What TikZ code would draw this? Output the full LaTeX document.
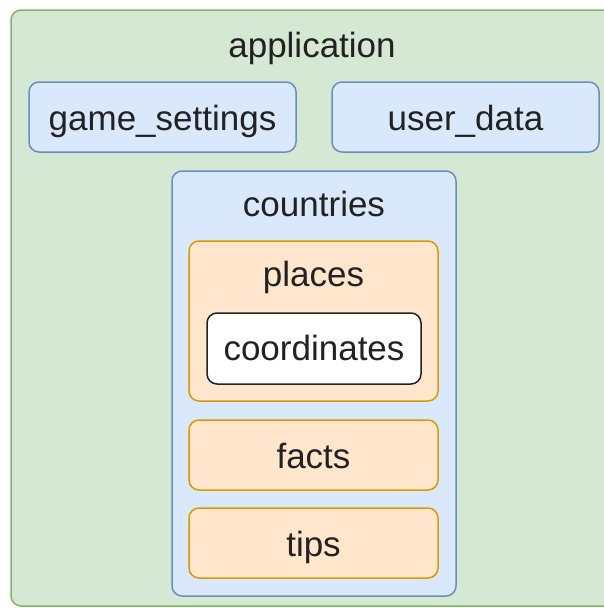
\documentclass[tikz,border=0pt]{standalone}
\usepackage{fontspec}
\setmainfont{Liberation Sans}
\definecolor{appfill}{HTML}{D5E8D4}
\definecolor{appline}{HTML}{82B366}
\definecolor{bluefill}{HTML}{DAE8FC}
\definecolor{blueline}{HTML}{6C8EBF}
\definecolor{orangefill}{HTML}{FFE6CC}
\definecolor{orangeline}{HTML}{D79B00}
\definecolor{ink}{HTML}{222222}
\begin{document}
\begin{tikzpicture}[x=1pt,y=-1pt,
  box/.style={rectangle, rounded corners=10pt, line width=1.5pt, inner sep=0pt,
    text=ink, font=\fontsize{35}{42}\selectfont, text height=26pt, text depth=0pt},
  greenbox/.style={box, fill=appfill, draw=appline},
  bluebox/.style={box, fill=bluefill, draw=blueline},
  orangebox/.style={box, fill=orangefill, draw=orangeline},
  whitebox/.style={box, fill=white, draw=ink},
  caption/.style={anchor=base, inner sep=0pt, text=ink, font=\fontsize{35}{42}\selectfont}]
\useasboundingbox (0,0) rectangle (604,608);
\clip (0,0) rectangle (604,608);

% outer container
\node[greenbox, minimum width=609pt, minimum height=596pt] (app) at (315.5,308) {};
\node[caption] (apptitle) at (312,57) {application};

% top-level data
\node[bluebox, minimum width=267pt, minimum height=70pt] (game) at (162.5,117) {game\_settings};
\node[bluebox, minimum width=267pt, minimum height=70pt] (user) at (465.5,117) {user\_data};

% countries container
\node[bluebox, minimum width=284pt, minimum height=425pt] (countries) at (314,383.5) {};
\node[caption] (countriestitle) at (314,216) {countries};

% places with nested coordinates
\node[orangebox, minimum width=249pt, minimum height=160pt] (places) at (313.5,321) {};
\node[caption] (placestitle) at (313.5,286) {places};
\node[whitebox, minimum width=214pt, minimum height=71pt, text depth=3pt] (coords) at (314,348.5) {coordinates};

% remaining country data
\node[orangebox, minimum width=249pt, minimum height=70pt] (facts) at (313.5,455) {facts};
\node[orangebox, minimum width=249pt, minimum height=70pt] (tips) at (313.5,543) {tips};
\end{tikzpicture}
\end{document}
